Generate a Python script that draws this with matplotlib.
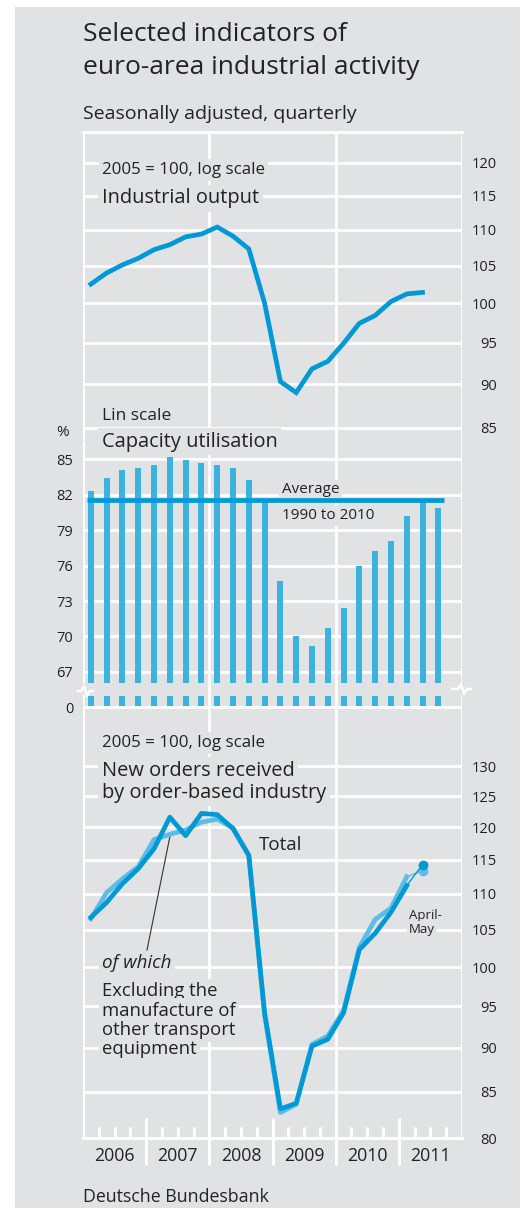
import numpy as np
import matplotlib
matplotlib.use("Agg")
import matplotlib.pyplot as plt
from matplotlib import transforms
from matplotlib.lines import Line2D
from matplotlib.patches import Rectangle
from matplotlib.ticker import NullLocator

plt.rcParams['font.family'] = ['Open Sans', 'DejaVu Sans']

# ---------------- data ----------------
years = ['2006', '2007', '2008', '2009', '2010', '2011']

# Industrial output, 2005 = 100, quarterly 2006 Q1 - 2011 Q2
output = [102.5, 104.0, 105.1, 106.0, 107.2, 107.9, 109.0, 109.4, 110.4, 109.1,
          107.3, 100.0, 90.3, 89.0, 91.8, 92.7, 94.9, 97.4, 98.4, 100.2, 101.2, 101.4]

# Capacity utilisation, %, quarterly 2006 Q1 - 2011 Q3
capacity = [82.3, 83.4, 84.1, 84.2, 84.5, 85.2, 84.9, 84.7, 84.5, 84.2, 83.2, 81.6,
            74.7, 70.0, 69.2, 70.7, 72.4, 76.0, 77.2, 78.1, 80.2, 81.6, 80.9]
capacity_avg = 81.5

# New orders, 2005 = 100, quarterly 2006 Q1 - 2011 Q1, plus April-May 2011
orders_total = [106.7, 108.8, 111.5, 113.7, 116.7, 121.6, 118.7, 122.2, 122.0, 119.8,
                115.7, 94.2, 83.1, 83.7, 90.2, 91.0, 94.2, 102.3, 104.5, 107.4, 111.2]
orders_excl = [106.5, 110.2, 112.2, 114.0, 118.1, 118.9, 119.6, 120.8, 121.3, 119.9,
               115.6, 93.9, 82.7, 83.6, 90.4, 91.4, 94.5, 102.6, 106.4, 108.0, 112.5]
orders_total_aprmay = 114.3
orders_excl_aprmay = 113.4

output_ticks = [85, 90, 95, 100, 105, 110, 115, 120]
capacity_ticks = [67, 70, 73, 76, 79, 82, 85]
orders_ticks = [80, 85, 90, 95, 100, 105, 110, 115, 120, 125, 130]
capacity_zero_label = '0'

# ---------------- style ----------------
W, H = 523, 1208
GRAY = '#e1e2e4'
WHITE = '#ffffff'
TXT = '#222222'
LINE = '#0099d5'
LIGHT = '#5dbde6'
BAR = '#3cb3de'
GLW = 2.0

fig = plt.figure(figsize=(W / 100, H / 100), dpi=100)
fig.patch.set_facecolor('white')


def X(px):
    return px / W


def Y(py):
    return 1 - py / H


fig.add_artist(Rectangle((X(15), 0), X(520) - X(15), Y(7), transform=fig.transFigure,
                         facecolor=GRAY, edgecolor='none', zorder=-10))

L, R = 83, 462
ax1 = fig.add_axes([X(L), Y(440), X(R) - X(L), (440 - 132) / H])
ax2 = fig.add_axes([X(L), Y(709), X(R) - X(L), (709 - 440) / H])
ax3 = fig.add_axes([X(L), Y(1138), X(R) - X(L), (1138 - 709) / H])

nq = len(years) * 4
for ax in (ax1, ax2, ax3):
    ax.patch.set_visible(False)
    for s in ax.spines.values():
        s.set_visible(False)
    ax.set_xlim(0, nq)
    ax.tick_params(axis='both', length=0, labelsize=10.5, labelcolor=TXT)
    ax.xaxis.set_minor_locator(NullLocator())

BOX = dict(boxstyle='square,pad=0.18', facecolor=GRAY, edgecolor='none')


def atext(ax, x, ybase, s, size, box=True, **kw):
    ax.text(X(x), Y(ybase), s, transform=fig.transFigure, fontsize=size, color=TXT,
            ha='left', va='baseline', zorder=5, bbox=BOX if box else None, **kw)


# ---------------- top: industrial output ----------------
ax1.set_yscale('log')
ax1.set_ylim(83.68, 124.94)
ax1.yaxis.set_minor_locator(NullLocator())
ax1.set_yticks(output_ticks, labels=[str(t) for t in output_ticks])
ax1.yaxis.tick_right()
ax1.tick_params(axis='y', pad=25)
ax1.set_xticks([])
for t in output_ticks:
    ax1.axhline(t, color=WHITE, lw=GLW, zorder=1)
for xv in (0, 8, 16, 24):
    ax1.axvline(xv, color=WHITE, lw=GLW, zorder=4)
ax1.axhline(124.94, color=WHITE, lw=GLW, zorder=4, clip_on=False)
ax1.plot(np.arange(len(output)) + 0.5, output, color=LINE, lw=3.4, zorder=6,
         solid_joinstyle='miter')
atext(ax1, 102, 174.3, '2005 = 100, log scale', 12.2)
atext(ax1, 102, 203.3, 'Industrial output', 14.4)

# ---------------- middle: capacity utilisation ----------------
BASE = 64.0
ax2.set_ylim(63.873, 86.606)
ax2.set_yticks([BASE] + capacity_ticks,
               labels=[capacity_zero_label] + [str(t) for t in capacity_ticks])
ax2.tick_params(axis='y', pad=7)
ax2.set_xticks([])
for t in capacity_ticks:
    ax2.axhline(t, color=WHITE, lw=GLW, zorder=1)
ax2.axhline(BASE, color=WHITE, lw=2.2, zorder=4)
xc = np.arange(len(capacity)) + 0.5
ax2.bar(xc, np.array(capacity) - BASE, bottom=BASE, width=0.38, color=BAR,
        linewidth=0, zorder=2)
ax2.axhspan(64.99, 66.07, color=GRAY, lw=0, zorder=3)
for xv in (8, 16):
    ax2.axvline(xv, color=WHITE, lw=GLW, zorder=4)
for xv in (0, 24):
    ax2.vlines([xv, xv], [63.873, 66.07], [65.14, 86.606], color=WHITE, lw=GLW, zorder=4)
ax2.hlines(capacity_avg, 0.25, 22.87, color=LINE, lw=3.4, zorder=7)

for pts in ([(452, 689), (458, 689), (461, 684), (464, 694), (467, 689), (471, 689)],
            [(78, 691), (81, 691), (84, 686), (87, 696), (90, 691), (93, 691)]):
    fig.add_artist(Line2D([X(p[0]) for p in pts], [Y(p[1]) for p in pts],
                          transform=fig.transFigure, color=WHITE, lw=1.8, zorder=5))

atext(ax2, 102, 420, 'Lin scale', 12.5)
atext(ax2, 102, 446.7, 'Capacity utilisation', 14.4)
atext(ax2, 56, 436, '%', 11, box=False)
atext(ax2, 282, 493.3, 'Average', 11)
atext(ax2, 282, 519.3, '1990 to 2010', 11)

# ---------------- bottom: new orders ----------------
ax3.set_yscale('log')
ax3.set_ylim(80, 140.04)
ax3.yaxis.set_minor_locator(NullLocator())
ax3.set_yticks(orders_ticks, labels=[str(t) for t in orders_ticks])
ax3.yaxis.tick_right()
ax3.tick_params(axis='y', pad=25)
for t in orders_ticks[1:]:
    ax3.axhline(t, color=WHITE, lw=GLW, zorder=1)
for xv in (0, 8, 16, 24):
    ax3.axvline(xv, color=WHITE, lw=GLW, zorder=4)
ax3.axhline(80, color=WHITE, lw=2.2, zorder=4, clip_on=False)

trans = transforms.blended_transform_factory(ax3.transData, ax3.transAxes)
ah = 1138 - 709
major_x = list(range(4, nq, 4))
minor_x = [q for q in range(1, nq) if q % 4]
ax3.vlines(major_x, -27 / ah, 20 / ah, transform=trans, color=WHITE, lw=2.2,
           clip_on=False, zorder=4)
ax3.vlines(minor_x, 0, 11 / ah, transform=trans, color=WHITE, lw=2.2,
           clip_on=False, zorder=4)
ax3.set_xticks(np.arange(len(years)) * 4 + 2, labels=years)
ax3.tick_params(axis='x', labelsize=12.8, pad=6.5)

xo = np.arange(len(orders_total)) + 0.5
xam = len(orders_total) + 0.5
ax3.plot(xo, orders_excl, color=LIGHT, lw=3.4, zorder=6)
ax3.plot([xo[-1], xam], [orders_excl[-1], orders_excl_aprmay], color=LIGHT, lw=1.0, zorder=6)
ax3.plot([xam], [orders_excl_aprmay], 'o', color=LIGHT, ms=6, zorder=6)
ax3.plot(xo, orders_total, color=LINE, lw=3.4, zorder=7)
ax3.plot([xo[-1], xam], [orders_total[-1], orders_total_aprmay], color=LINE, lw=1.0, zorder=7)
ax3.plot([xam], [orders_total_aprmay], 'o', color=LINE, ms=6, zorder=7)

atext(ax3, 102, 747.3, '2005 = 100, log scale', 12.2)
atext(ax3, 102, 776, 'New orders received', 14.4)
atext(ax3, 102, 797.7, 'by order-based industry', 14.4)
atext(ax3, 259, 850, 'Total', 13.5, box=False)
atext(ax3, 409, 919, 'April-', 9.5, box=False)
atext(ax3, 409, 933, 'May', 9.5)
atext(ax3, 102, 968.3, 'of which', 13.5, style='italic')
for i, s in enumerate(['Excluding the', 'manufacture of', 'other transport', 'equipment']):
    atext(ax3, 102, 996 + i * 19.5, s, 13.3)
ax3.add_artist(Line2D([X(147), X(170)], [Y(950), Y(836)], transform=fig.transFigure,
                      color='#333333', lw=0.8, zorder=5))

# ---------------- titles ----------------
fig.text(X(83), Y(40.7), 'Selected indicators of', fontsize=19, color=TXT, va='baseline')
fig.text(X(83), Y(74), 'euro-area industrial activity', fontsize=19, color=TXT, va='baseline')
fig.text(X(83), Y(119), 'Seasonally adjusted, quarterly', fontsize=14, color=TXT, va='baseline')
fig.text(X(83), Y(1201.7), 'Deutsche Bundesbank', fontsize=12.8, color=TXT, va='baseline')

# right-align right-hand tick labels
for ax in (ax1, ax3):
    for tk in ax.yaxis.get_major_ticks():
        tk.label2.set_horizontalalignment('right')

fig.savefig('out.png', dpi=100, facecolor='white')
